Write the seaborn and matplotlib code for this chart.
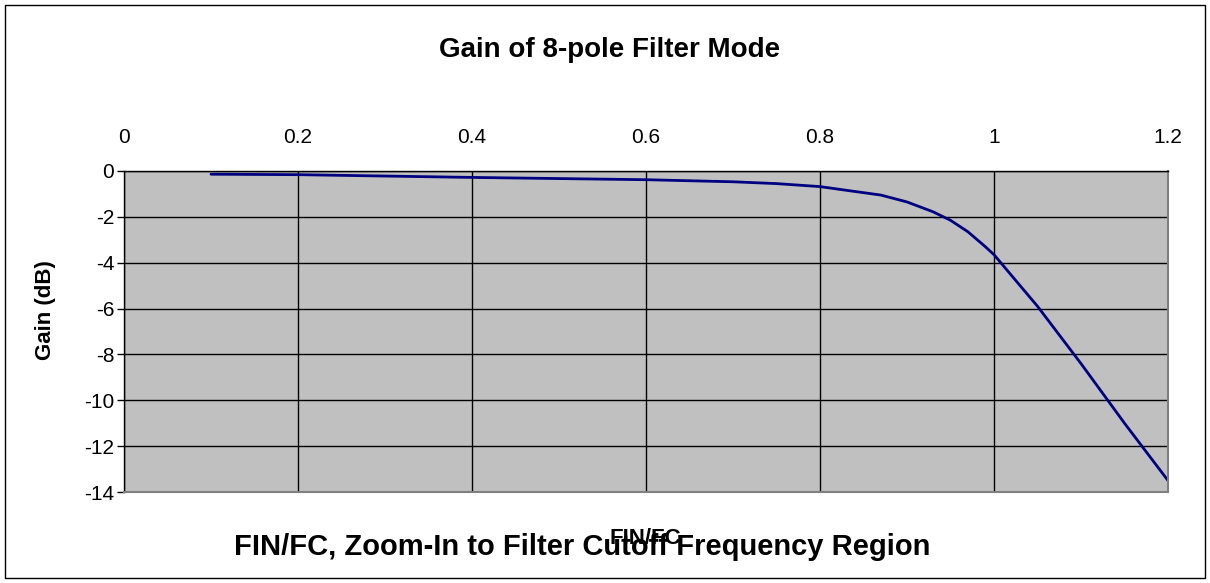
import numpy as np
import pandas as pd
import matplotlib
matplotlib.use('Agg')
import matplotlib.pyplot as plt
import seaborn as sns

# Dados (FIN/FC vs ganho em dB)
fin_fc = [0.1, 0.2, 0.3, 0.4, 0.5, 0.6, 0.7, 0.75, 0.8, 0.83, 0.87,
          0.9, 0.93, 0.95, 0.97, 0.99, 1.0, 1.02, 1.05, 1.1, 1.15, 1.2]
ganho_db = [-0.14, -0.16, -0.22, -0.28, -0.33, -0.38, -0.47, -0.55, -0.68,
            -0.84, -1.05, -1.35, -1.78, -2.15, -2.65, -3.3, -3.65, -4.55,
            -5.9, -8.4, -11.0, -13.5]

x_ticks = [0, 0.2, 0.4, 0.6, 0.8, 1, 1.2]
x_tick_labels = ['0', '0.2', '0.4', '0.6', '0.8', '1', '1.2']
y_ticks = [0, -2, -4, -6, -8, -10, -12, -14]

df = pd.DataFrame({'FIN_FC': fin_fc, 'GANHO': ganho_db})

sns.set_style('white')
plt.rcParams['font.family'] = ['Liberation Sans', 'DejaVu Sans']
plt.rcParams['text.color'] = 'black'
plt.rcParams['axes.labelcolor'] = 'black'
plt.rcParams['xtick.color'] = 'black'
plt.rcParams['ytick.color'] = 'black'

fig = plt.figure(figsize=(12.1, 5.83), dpi=100)
ax = fig.add_axes([124 / 1210, 1 - 492 / 583, (1168 - 124) / 1210, (492 - 171) / 583])

sns.lineplot(data=df, x='FIN_FC', y='GANHO', ax=ax, color='#000080', linewidth=2)

ax.set_facecolor('#C0C0C0')
ax.set_xlim(0, 1.2)
ax.set_ylim(-14, 0)
ax.set_xticks(x_ticks)
ax.set_xticklabels(x_tick_labels)
ax.set_yticks(y_ticks)
ax.set_yticklabels([str(v) for v in y_ticks])
ax.xaxis.tick_top()
ax.tick_params(axis='x', top=True, length=0, pad=17, labelsize=15)
ax.tick_params(axis='y', left=True, length=5, width=1, color='black', labelsize=15, pad=2)
ax.grid(True, color='black', linewidth=1)
ax.set_axisbelow(True)

for lado in ['right', 'bottom']:
    ax.spines[lado].set_color('#808080')
    ax.spines[lado].set_linewidth(1.5)
for lado in ['top', 'left']:
    ax.spines[lado].set_color('black')
    ax.spines[lado].set_linewidth(1)

ax.set_xlabel('')
ax.set_ylabel('')
fig.text(46 / 1210, 1 - 310 / 583, 'Gain (dB)', rotation=90,
         ha='center', va='center', fontsize=16, fontweight='bold')

fig.text(610 / 1210, 1 - 50 / 583, 'Gain of 8-pole Filter Mode',
         ha='center', va='center', fontsize=20, fontweight='bold')
fig.text(582 / 1210, 1 - 547 / 583, 'FIN/FC, Zoom-In to Filter Cutoff Frequency Region',
         ha='center', va='center', fontsize=21, fontweight='bold')
fig.text(645 / 1210, 1 - 538 / 583, 'FIN/FC',
         ha='center', va='center', fontsize=16, fontweight='bold')

# Moldura externa
borda = plt.Rectangle((5 / 1210, 5 / 583), 1200 / 1210, 573 / 583,
                      transform=fig.transFigure, fill=False,
                      edgecolor='black', linewidth=1)
fig.patches.append(borda)

plt.savefig('out.png', dpi=100)
plt.close()
